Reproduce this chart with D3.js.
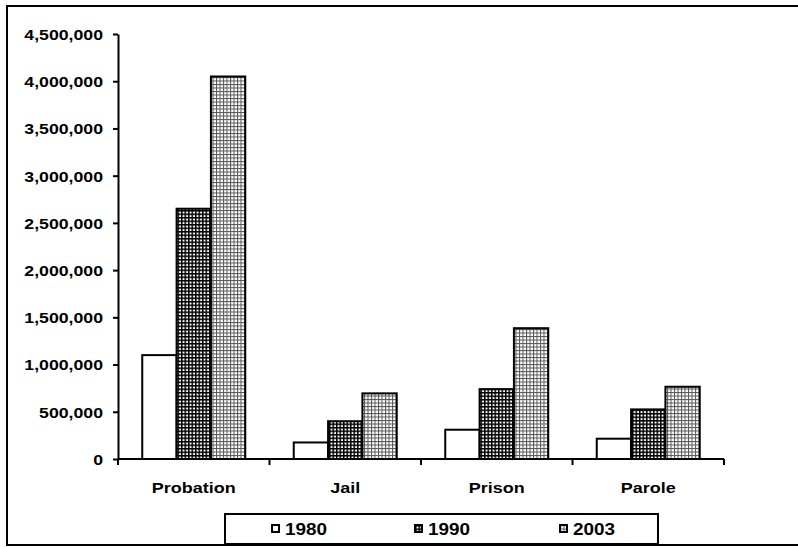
<!DOCTYPE html>
<html>
<head>
<meta charset="utf-8">
<script src="https://cdn.jsdelivr.net/npm/d3@7"></script>
<style>
  html, body { margin: 0; padding: 0; background: #fff; }
  svg { display: block; }
  text { font-family: "Liberation Sans", Arial, sans-serif; font-weight: bold; fill: #000; }
</style>
</head>
<body>
<script>
// Correctional population by type of supervision
const categories = ["Probation", "Jail", "Prison", "Parole"];
const years = ["1980", "1990", "2003"];
const values1980 = [1100000, 175000, 310000, 215000];
const values1990 = [2650000, 400000, 740000, 525000];
const values2003 = [4050000, 695000, 1385000, 765000];
const yTickValues = [0, 500000, 1000000, 1500000, 2000000, 2500000, 3000000, 3500000, 4000000, 4500000];

const series = [values1980, values1990, values2003];
const W = 798, H = 548;
const SX = 1.18; // horizontal stretch of the lettering

const svg = d3.select("body").append("svg").attr("width", W).attr("height", H);

// fill patterns
const defs = svg.append("defs");
const p90 = defs.append("pattern").attr("id", "pat1990")
  .attr("patternUnits", "userSpaceOnUse").attr("width", 3.5).attr("height", 3.5);
p90.append("rect").attr("width", 3.5).attr("height", 3.5).attr("fill", "#000");
p90.append("rect").attr("x", 1.5).attr("y", 1.5).attr("width", 2).attr("height", 2).attr("fill", "#fff");

const p03 = defs.append("pattern").attr("id", "pat2003")
  .attr("patternUnits", "userSpaceOnUse").attr("width", 3.5).attr("height", 3.5);
p03.append("rect").attr("width", 3.5).attr("height", 3.5).attr("fill", "#fff");
p03.append("rect").attr("width", 3.5).attr("height", 1).attr("fill", "#555");
p03.append("rect").attr("width", 1).attr("height", 3.5).attr("fill", "#555");

const fills = ["#fff", "url(#pat1990)", "url(#pat2003)"];

// outer frame
svg.append("rect").attr("x", 7).attr("y", 6).attr("width", 800).attr("height", 539)
  .attr("fill", "none").attr("stroke", "#000").attr("stroke-width", 2);

const x = d3.scaleBand().domain(categories).range([118, 724]);
const x1 = d3.scaleBand().domain(years).range([24.25, 127.25]);
const y = d3.scaleLinear().domain([0, 4500000]).range([459, 34]);

// bars
const groups = svg.append("g").selectAll("g").data(categories).join("g")
  .attr("transform", d => `translate(${x(d)},0)`);
groups.selectAll("rect")
  .data((c, i) => years.map((yr, k) => ({ yr, k, v: series[k][i] })))
  .join("rect")
  .attr("x", d => x1(d.yr))
  .attr("width", x1.bandwidth())
  .attr("y", d => y(d.v))
  .attr("height", d => y(0) - y(d.v))
  .attr("fill", d => fills[d.k])
  .attr("stroke", "#000")
  .attr("stroke-width", 2);

// y axis
const yAxis = svg.append("g").attr("transform", "translate(118,0)")
  .call(d3.axisLeft(y).tickValues(yTickValues).tickFormat(d3.format(",")).tickSize(5).tickSizeOuter(0));
yAxis.select(".domain").attr("stroke", "#000").attr("stroke-width", 2);
yAxis.selectAll(".tick line").attr("stroke", "#000").attr("stroke-width", 2);
yAxis.selectAll(".tick text")
  .attr("x", -15 / SX).attr("dy", "0.36em").attr("transform", `scale(${SX},1)`)
  .style("font-size", "15px");

// x axis line with category boundary ticks
const bounds = categories.map(c => x(c)).concat([x.range()[1]]);
svg.append("line").attr("x1", x.range()[0]).attr("x2", x.range()[1])
  .attr("y1", y(0)).attr("y2", y(0)).attr("stroke", "#000").attr("stroke-width", 2);
svg.append("g").selectAll("line").data(bounds).join("line")
  .attr("x1", d => d).attr("x2", d => d).attr("y1", y(0)).attr("y2", y(0) + 6)
  .attr("stroke", "#000").attr("stroke-width", 2);

// category labels
svg.append("g").selectAll("text").data(categories).join("text")
  .attr("transform", d => `translate(${x(d) + x.bandwidth() / 2},493) scale(1.16,1)`)
  .attr("text-anchor", "middle")
  .style("font-size", "15.5px")
  .text(d => d);

// legend
const lg = svg.append("g");
lg.append("rect").attr("x", 225).attr("y", 514).attr("width", 433).attr("height", 30)
  .attr("fill", "#fff").attr("stroke", "#000").attr("stroke-width", 2);
const legendX = [272, 415, 560];
const items = lg.selectAll("g.item").data(years).join("g").attr("class", "item")
  .attr("transform", (d, i) => `translate(${legendX[i]},0)`);
items.append("rect").attr("x", 0).attr("y", 525).attr("width", 7).attr("height", 7)
  .attr("fill", (d, i) => fills[i]).attr("stroke", "#000").attr("stroke-width", 2);
items.append("text")
  .attr("transform", `translate(13,535) scale(${SX},1)`)
  .style("font-size", "16px")
  .text(d => d);
</script>
</body>
</html>
